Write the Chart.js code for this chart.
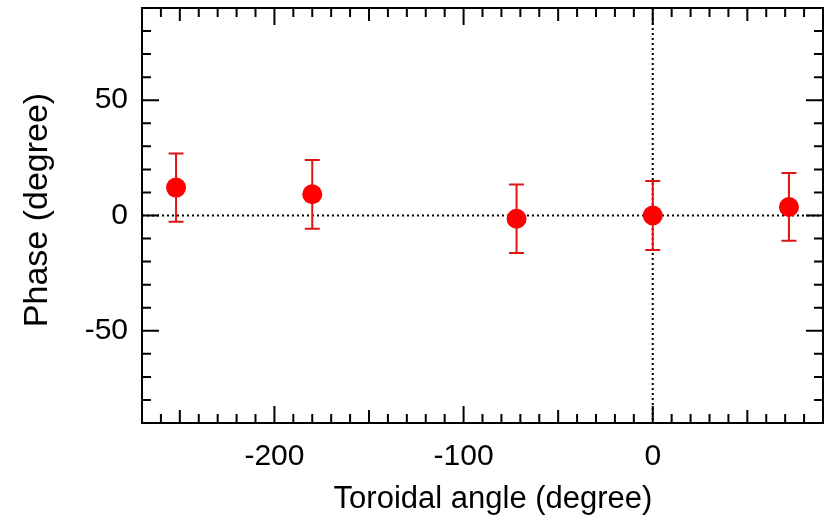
<!DOCTYPE html>
<html>
<head>
<meta charset="utf-8">
<script src="https://cdn.jsdelivr.net/npm/chart.js@4.4.1/dist/chart.umd.min.js"></script>
<style>
  html, body { margin: 0; padding: 0; background: #fff; }
  #wrap { width: 825px; height: 520px; }
</style>
</head>
<body>
<div id="wrap"><canvas id="myChart" width="825" height="520"></canvas></div>
<script>
// values
const angles = [-252, -180, -72, 0, 72];
const phases = [12.1, 9.2, -1.4, 0, 3.7];
const errors = [14.8, 14.9, 14.9, 15.0, 14.7];
const xTicks = [-200, -100, 0];
const yTicks = [-50, 0, 50];
const xRange = [-270, 90];
const yRange = [-90, 90];
const xTitle = 'Toroidal angle (degree)';
const yTitle = 'Phase (degree)';

const FONT = '"Liberation Sans", Arial, Helvetica, sans-serif';

const ctx = document.getElementById('myChart');

const points = angles.map((a, i) => ({ x: a, y: phases[i], err: errors[i] }));

// dotted zero lines + error bars, under the markers
const underlay = {
    id: 'underlay',
    beforeDatasetsDraw(chart) {
        const { ctx, chartArea: a, scales: { x, y } } = chart;
        ctx.save();
        ctx.strokeStyle = '#000';
        ctx.lineWidth = 2;
        ctx.setLineDash([2, 3]);
        const x0 = x.getPixelForValue(0);
        const y0 = y.getPixelForValue(0);
        ctx.beginPath();
        ctx.moveTo(a.left, y0);
        ctx.lineTo(a.right, y0);
        ctx.moveTo(x0, a.top);
        ctx.lineTo(x0, a.bottom);
        ctx.stroke();
        ctx.setLineDash([]);

        ctx.strokeStyle = 'rgb(225, 20, 20)';
        ctx.lineWidth = 2;
        const cap = 7.5;
        points.forEach(p => {
            const px = x.getPixelForValue(p.x);
            const top = y.getPixelForValue(p.y + p.err);
            const bot = y.getPixelForValue(p.y - p.err);
            ctx.beginPath();
            ctx.moveTo(px, top);
            ctx.lineTo(px, bot);
            ctx.moveTo(px - cap, top);
            ctx.lineTo(px + cap, top);
            ctx.moveTo(px - cap, bot);
            ctx.lineTo(px + cap, bot);
            ctx.stroke();
        });
        ctx.restore();
    }
};

// frame, inward ticks on all four sides, axis titles
const frame = {
    id: 'frame',
    afterDraw(chart) {
        const { ctx, chartArea: a, scales: { x, y } } = chart;
        ctx.save();
        ctx.strokeStyle = '#000';
        ctx.lineWidth = 2;
        ctx.strokeRect(a.left, a.top, a.right - a.left, a.bottom - a.top);

        ctx.beginPath();
        for (let v = xRange[0] + 10; v < xRange[1]; v += 10) {
            const px = x.getPixelForValue(v);
            let len = 9;
            if (v % 100 === 0) len = 17;
            else if (v % 50 === 0) len = 13;
            ctx.moveTo(px, a.bottom);
            ctx.lineTo(px, a.bottom - len);
            ctx.moveTo(px, a.top);
            ctx.lineTo(px, a.top + len);
        }
        for (let v = yRange[0] + 10; v < yRange[1]; v += 10) {
            const py = y.getPixelForValue(v);
            const len = v % 50 === 0 ? 17 : 9;
            ctx.moveTo(a.left, py);
            ctx.lineTo(a.left + len, py);
            ctx.moveTo(a.right, py);
            ctx.lineTo(a.right - len, py);
        }
        ctx.stroke();

        ctx.fillStyle = '#000';
        ctx.textAlign = 'center';
        ctx.textBaseline = 'alphabetic';
        ctx.font = '31px ' + FONT;
        ctx.fillText(xTitle, 493, 508);

        ctx.translate(47, 210);
        ctx.rotate(-Math.PI / 2);
        ctx.font = '34px ' + FONT;
        ctx.fillText(yTitle, 0, 0);
        ctx.restore();
    }
};

function noPad(s) {
    s.paddingTop = 0;
    s.paddingBottom = 0;
    s.paddingLeft = 0;
    s.paddingRight = 0;
}

const config = {
    type: 'scatter',
    data: {
        datasets: [{
            label: 'Phase',
            data: points,
            pointRadius: 10,
            pointHoverRadius: 10,
            pointBackgroundColor: 'rgb(255, 0, 0)',
            pointBorderWidth: 0,
            borderWidth: 0
        }]
    },
    options: {
        responsive: false,
        animation: false,
        events: [],
        layout: { autoPadding: false, padding: { top: 8, right: 2, left: 0, bottom: 0 } },
        plugins: {
            legend: { display: false },
            tooltip: { enabled: false }
        },
        scales: {
            x: {
                type: 'linear',
                min: xRange[0],
                max: xRange[1],
                border: { display: false },
                grid: { display: false, drawTicks: false },
                afterBuildTicks: s => { s.ticks = xTicks.map(v => ({ value: v })); },
                afterFit: s => { s.height = 97; noPad(s); },
                ticks: {
                    color: '#000',
                    padding: 16,
                    maxRotation: 0,
                    font: { family: FONT, size: 30 }
                }
            },
            y: {
                type: 'linear',
                min: yRange[0],
                max: yRange[1],
                border: { display: false },
                grid: { display: false, drawTicks: false },
                afterBuildTicks: s => { s.ticks = yTicks.map(v => ({ value: v })); },
                afterFit: s => { s.width = 142; noPad(s); },
                ticks: {
                    color: '#000',
                    padding: 14,
                    font: { family: FONT, size: 30 }
                }
            }
        }
    },
    plugins: [underlay, frame]
};

chart = new Chart(ctx, config);
</script>
</body>
</html>
